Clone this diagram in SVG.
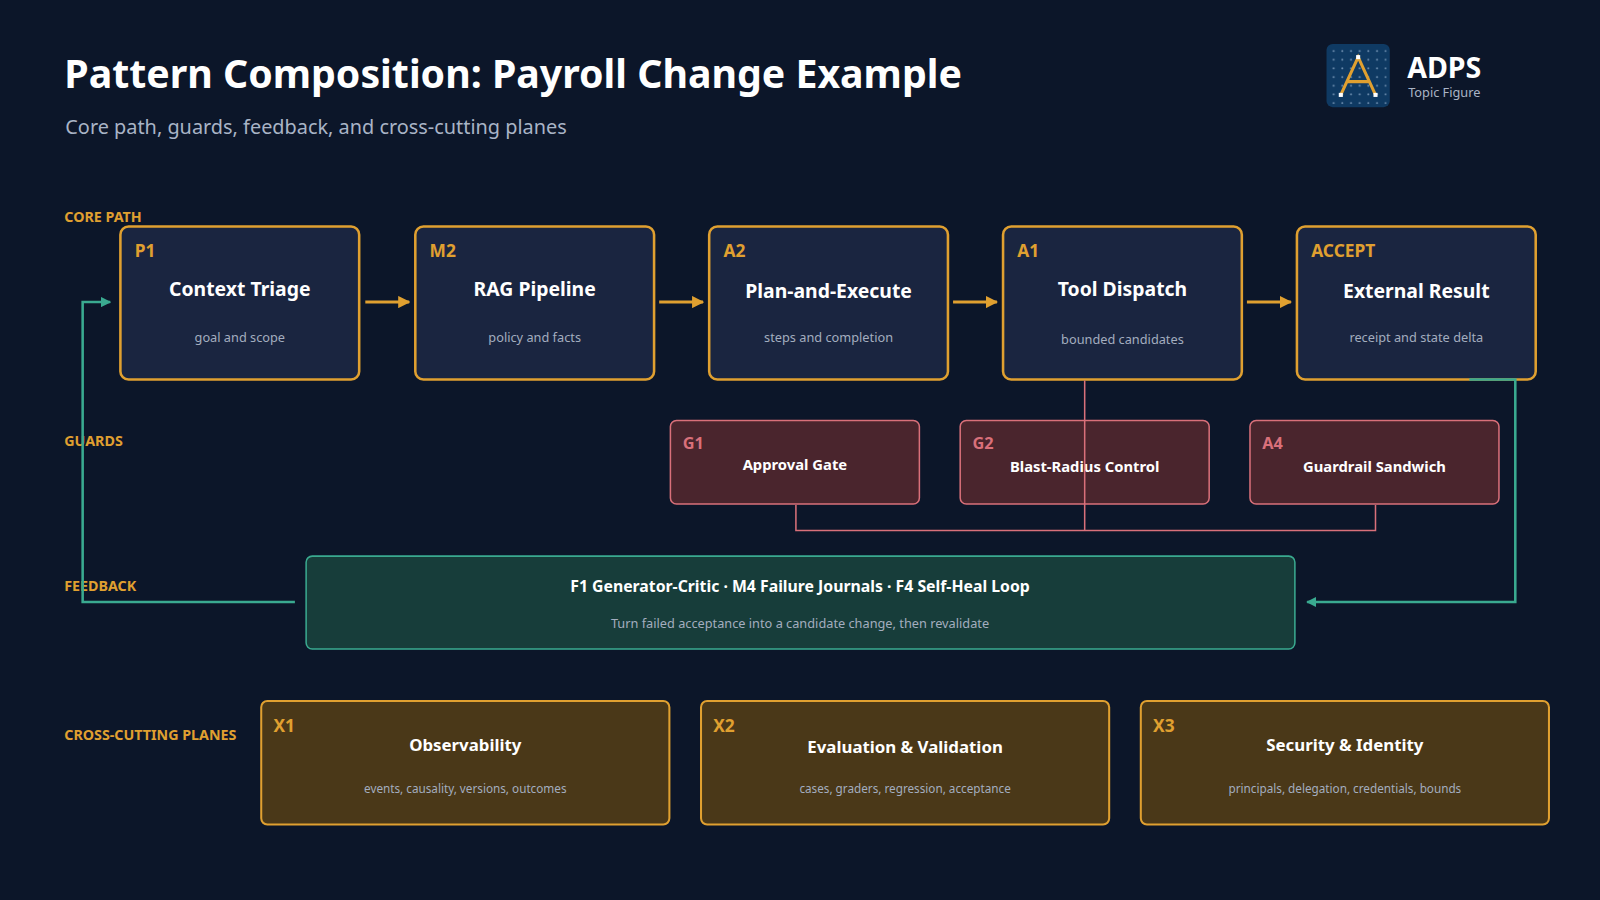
<svg xmlns="http://www.w3.org/2000/svg" width="1600" height="900" viewBox="0 0 1600 900">
<style>
text{font-family:"Noto Sans","Open Sans","DejaVu Sans",sans-serif}
.core{fill:#1a2540;stroke:#e0a030;stroke-width:2.5}
.guard{fill:#4a252d;stroke:#d9707a;stroke-width:1.5}
.plane{fill:#4a3818;stroke:#e0a030;stroke-width:2}
.sec{font-size:14px;font-weight:700;fill:#e0a030}
.id{font-size:17px;font-weight:700;fill:#e0a030}
.gid{font-size:16px;font-weight:700;fill:#d9707a}
.t{font-weight:700;fill:#fff;text-anchor:middle}
.s{fill:#a3adbf;text-anchor:middle}
</style>
<defs>
<marker id="ao" viewBox="0 0 10 10" refX="9" refY="5" markerWidth="4" markerHeight="4" orient="auto"><path d="M0,0L10,5L0,10z" fill="#e0a030"/></marker>
<marker id="at" viewBox="0 0 10 10" refX="9" refY="5" markerWidth="4" markerHeight="4" orient="auto"><path d="M0,0L10,5L0,10z" fill="#3aaa90"/></marker>
<pattern id="dots" width="8.5" height="8.5" patternUnits="userSpaceOnUse" x="1303" y="46"><circle cx="4" cy="4" r="1" fill="#6f8fb0"/></pattern>
</defs>
<rect width="1600" height="900" fill="#0c1629"/>
<g transform="scale(1.0204)">
<text x="63" y="86" font-size="38.5" font-weight="700" fill="#fff">Pattern Composition: Payroll Change Example</text>
<text x="64" y="131" font-size="19.5" fill="#a9b4c6">Core path, guards, feedback, and cross-cutting planes</text>
<g id="logo">
<rect x="1300" y="43" width="62" height="62" rx="6" fill="#0f3a63"/>
<rect x="1303" y="46" width="56" height="56" fill="url(#dots)"/>
<path d="M1314,93L1331,56L1348,93M1319,80H1343" stroke="#e0a030" stroke-width="3" fill="none"/>
<rect x="1312" y="91" width="4" height="4" fill="#fff"/><rect x="1346" y="91" width="4" height="4" fill="#fff"/><rect x="1329" y="54" width="4" height="4" fill="#fff"/>
<text x="1379" y="76" font-size="28" font-weight="700" fill="#fff">ADPS</text>
<text x="1380" y="95" font-size="12.5" fill="#a9b4c6">Topic Figure</text>
</g>
<text class="sec" x="63" y="218">CORE PATH</text>
<text class="sec" x="63" y="437">GUARDS</text>
<text class="sec" x="63" y="579">FEEDBACK</text>
<text class="sec" x="63" y="725">CROSS-CUTTING PLANES</text>
<g id="p1"><rect class="core" x="118" y="222" width="234" height="150" rx="8"/><text class="id" x="132" y="252">P1</text><text class="t" x="235" y="290" font-size="19">Context Triage</text><text class="s" x="235" y="335" font-size="12.5">goal and scope</text></g>
<g id="m2"><rect class="core" x="407" y="222" width="234" height="150" rx="8"/><text class="id" x="421" y="252">M2</text><text class="t" x="524" y="290" font-size="19">RAG Pipeline</text><text class="s" x="524" y="335" font-size="12.5">policy and facts</text></g>
<g id="a2"><rect class="core" x="695" y="222" width="234" height="150" rx="8"/><text class="id" x="709" y="252">A2</text><text class="t" x="812" y="292" font-size="19">Plan-and-Execute</text><text class="s" x="812" y="335" font-size="12.5">steps and completion</text></g>
<g id="a1"><rect class="core" x="983" y="222" width="234" height="150" rx="8"/><text class="id" x="997" y="252">A1</text><text class="t" x="1100" y="290" font-size="19">Tool Dispatch</text><text class="s" x="1100" y="337" font-size="12.5">bounded candidates</text></g>
<g id="accept"><rect class="core" x="1271" y="222" width="234" height="150" rx="8"/><text class="id" x="1285" y="252">ACCEPT</text><text class="t" x="1388" y="292" font-size="19">External Result</text><text class="s" x="1388" y="335" font-size="12.5">receipt and state delta</text></g>
<g id="g1"><rect class="guard" x="657" y="412" width="244" height="82" rx="6"/><text class="gid" x="669" y="440">G1</text><text class="t" x="779" y="461" font-size="14.5">Approval Gate</text></g>
<g id="g2"><rect class="guard" x="941" y="412" width="244" height="82" rx="6"/><text class="gid" x="953" y="440">G2</text><text class="t" x="1063" y="463" font-size="14.5">Blast-Radius Control</text></g>
<g id="a4"><rect class="guard" x="1225" y="412" width="244" height="82" rx="6"/><text class="gid" x="1237" y="440">A4</text><text class="t" x="1347" y="463" font-size="14.5">Guardrail Sandwich</text></g>
<g id="feedback"><rect x="300" y="545" width="969" height="91" rx="6" fill="#173d3a" stroke="#3aaa90" stroke-width="1.5"/><text class="t" x="784" y="580" font-size="15.5">F1 Generator-Critic · M4 Failure Journals · F4 Self-Heal Loop</text><text class="s" x="784" y="615" font-size="12.5">Turn failed acceptance into a candidate change, then revalidate</text></g>
<g id="x1"><rect class="plane" x="256" y="687" width="400" height="121" rx="6"/><text class="id" x="268" y="717" font-size="16">X1</text><text class="t" x="456" y="736" font-size="16.5">Observability</text><text class="s" x="456" y="777" font-size="11.5">events, causality, versions, outcomes</text></g>
<g id="x2"><rect class="plane" x="687" y="687" width="400" height="121" rx="6"/><text class="id" x="699" y="717" font-size="16">X2</text><text class="t" x="887" y="738" font-size="16.5">Evaluation &amp; Validation</text><text class="s" x="887" y="777" font-size="11.5">cases, graders, regression, acceptance</text></g>
<g id="x3"><rect class="plane" x="1118" y="687" width="400" height="121" rx="6"/><text class="id" x="1130" y="717" font-size="16">X3</text><text class="t" x="1318" y="736" font-size="16.5">Security &amp; Identity</text><text class="s" x="1318" y="777" font-size="11.5">principals, delegation, credentials, bounds</text></g>
<g id="connectors" fill="none">
<g stroke="#e0a030" stroke-width="3" marker-end="url(#ao)">
<path d="M358,296H401"/><path d="M646,296H689"/><path d="M934,296H977"/><path d="M1222,296H1265"/>
</g>
<path d="M1063,373V520M780,495V520H1348V495" stroke="#d9707a" stroke-width="1.5"/>
<g stroke="#3aaa90" stroke-width="2.5" marker-end="url(#at)">
<path d="M1440,372H1485V590H1281"/><path d="M289,590H81V296H108"/>
</g>
</g>
</g>
</svg>
